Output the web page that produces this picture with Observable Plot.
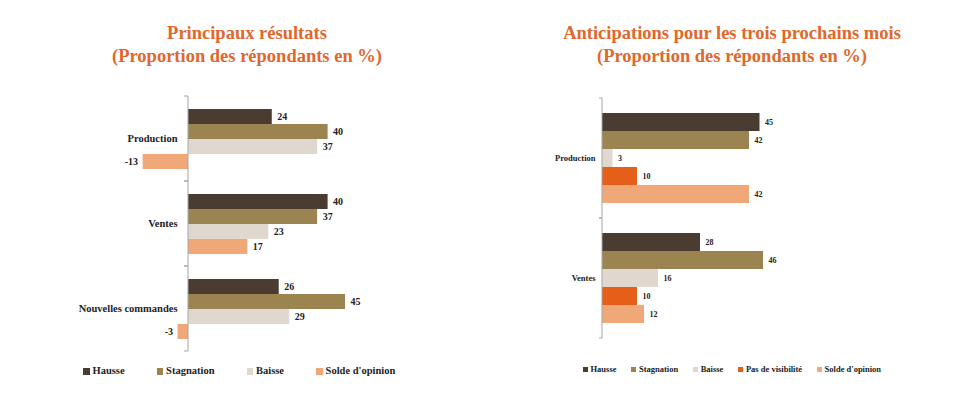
<!DOCTYPE html>
<html><head><meta charset="utf-8">
<script src="https://cdn.jsdelivr.net/npm/d3@7"></script>
<script src="https://cdn.jsdelivr.net/npm/@observablehq/plot@0.6"></script>
<style>
body{margin:0;background:#fff;}
#root{position:relative;width:953px;height:393px;overflow:hidden;font-family:"Liberation Serif","DejaVu Serif",serif;font-weight:bold;}
.title{position:absolute;text-align:center;color:#e0682c;font-size:18.5px;line-height:23px;white-space:nowrap;}
.chart{position:absolute;}
.legend{position:absolute;display:flex;align-items:center;color:#222;white-space:nowrap;}
.legend .it{display:flex;align-items:center;}
.legend .sw{display:inline-block;}
</style></head><body><div id="root"></div>
<script>
// ---------- Data: left chart ----------
const titles1 = ["Principaux résultats", "(Proportion des répondants en %)"];
const series1 = ["Hausse", "Stagnation", "Baisse", "Solde d'opinion"];
const groups1 = ["Production", "Ventes", "Nouvelles commandes"];
const hausse1 = [24, 40, 26];
const stagnation1 = [40, 37, 45];
const baisse1 = [37, 23, 29];
const solde1 = [-13, 17, -3];

// ---------- Data: right chart ----------
const titles2 = ["Anticipations pour les trois prochains mois", "(Proportion des répondants en %)"];
const series2 = ["Hausse", "Stagnation", "Baisse", "Pas de visibilité", "Solde d'opinion"];
const groups2 = ["Production", "Ventes"];
const hausse2 = [45, 28];
const stagnation2 = [42, 46];
const baisse2 = [3, 16];
const pasVis2 = [10, 10];
const solde2 = [42, 12];

const palette = {
  "Hausse": "#4a3c31",
  "Stagnation": "#9c8450",
  "Baisse": "#e0d8cf",
  "Pas de visibilité": "#e65f18",
  "Solde d'opinion": "#f0a878"
};

const data1 = groups1.flatMap((g, i) => [
  {group: g, series: "Hausse", value: hausse1[i]},
  {group: g, series: "Stagnation", value: stagnation1[i]},
  {group: g, series: "Baisse", value: baisse1[i]},
  {group: g, series: "Solde d'opinion", value: solde1[i]}
]);
const data2 = groups2.flatMap((g, i) => [
  {group: g, series: "Hausse", value: hausse2[i]},
  {group: g, series: "Stagnation", value: stagnation2[i]},
  {group: g, series: "Baisse", value: baisse2[i]},
  {group: g, series: "Pas de visibilité", value: pasVis2[i]},
  {group: g, series: "Solde d'opinion", value: solde2[i]}
]);

function axisMark(tick) {
  return (index, scales, values, dims) => {
    const x0 = scales.x(0);
    const top = dims.marginTop, bottom = dims.height - dims.marginBottom;
    const g = d3.create("svg:g").attr("stroke", "#a5a5a5").attr("stroke-width", 1);
    g.append("line").attr("x1", x0).attr("x2", x0).attr("y1", top).attr("y2", bottom);
    for (const y of [top, bottom]) g.append("line").attr("x1", x0 - tick).attr("x2", x0).attr("y1", y).attr("y2", y);
    return g.node();
  };
}

function chart({data, series, groups, width, height, marginTop, marginBottom, zero, k, domain, labelSize, valueSize, labelGap, tick}) {
  const marginLeft = zero + domain[0] * k;
  const marginRight = width - (zero + domain[1] * k);
  return Plot.plot({
    width, height, marginTop, marginBottom, marginLeft, marginRight,
    x: {domain, axis: null},
    y: {domain: series, paddingInner: 0, paddingOuter: 0.76, axis: null},
    fy: {domain: groups, padding: 0, axis: null},
    color: {domain: series, range: series.map(s => palette[s])},
    style: {fontFamily: "'Liberation Serif', 'DejaVu Serif', serif", fontWeight: "bold", color: "#222", background: "transparent", overflow: "visible"},
    marks: [
      Plot.barX(data, {x: "value", y: "series", fy: "group", fill: "series"}),
      axisMark(tick),
      Plot.text(data, {filter: d => d.value >= 0, x: "value", y: "series", fy: "group", text: d => String(d.value), textAnchor: "start", dx: 5, fontSize: valueSize, fill: "#222"}),
      Plot.text(data, {filter: d => d.value < 0, x: "value", y: "series", fy: "group", text: d => String(d.value), textAnchor: "end", dx: -5, fontSize: valueSize, fill: "#222"}),
      Plot.text(groups, {fy: d => d, x: () => 0, text: d => d, textAnchor: "end", dx: -labelGap, fontSize: labelSize, fill: "#222"})
    ]
  });
}

const root = document.getElementById("root");

function addTitle(lines, left, width) {
  const t = document.createElement("div");
  t.className = "title";
  t.style.left = left + "px"; t.style.top = "22px"; t.style.width = width + "px";
  t.innerHTML = lines.map(l => `<div>${l}</div>`).join("");
  root.appendChild(t);
}
function addChart(svg, left, top) {
  const d = document.createElement("div");
  d.className = "chart";
  d.style.left = left + "px"; d.style.top = top + "px";
  d.appendChild(svg);
  root.appendChild(d);
}
function addLegend(series, left, top, fontSize, sw, gap, swGap) {
  const l = document.createElement("div");
  l.className = "legend";
  l.style.left = left + "px"; l.style.top = top + "px";
  l.style.fontSize = fontSize + "px"; l.style.lineHeight = (fontSize + 2) + "px";
  l.style.gap = gap + "px";
  for (const s of series) {
    const it = document.createElement("span");
    it.className = "it";
    it.innerHTML = `<span class="sw" style="width:${sw}px;height:${sw}px;background:${palette[s]};margin-right:${swGap}px"></span><span>${s}</span>`;
    l.appendChild(it);
  }
  root.appendChild(l);
}

addTitle(titles1, 0, 494);
addTitle(titles2, 482, 500);

addChart(chart({data: data1, series: series1, groups: groups1, width: 476, height: 267, marginTop: 5, marginBottom: 5,
  zero: 188, k: 3.49, domain: [-25, 50], labelSize: 10.5, valueSize: 10, labelGap: 11, tick: 4}), 0, 90);
addChart(chart({data: data2, series: series2, groups: groups2, width: 477, height: 253, marginTop: 7, marginBottom: 5,
  zero: 126, k: 3.5, domain: [-10, 50], labelSize: 8.5, valueSize: 8, labelGap: 7, tick: 3}), 476, 90);

addLegend(series1, 83, 365, 10.5, 6.5, 32, 3);
addLegend(series2, 583, 364, 8.5, 5, 15, 2.5);
</script></body></html>
